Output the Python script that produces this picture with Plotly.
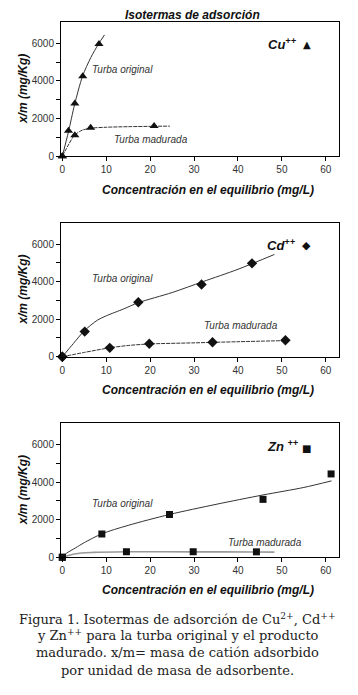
import plotly.graph_objects as go

# ---------------- data ----------------
# Cu++ measured points
cu_orig_x = [0, 1.4, 2.85, 4.65, 8.35]
cu_orig_y = [0, 1350, 2800, 4250, 5960]
cu_mad_x = [0, 2.85, 6.45, 20.9]
cu_mad_y = [0, 1120, 1510, 1600]
# Cu++ fitted curves
cu_orig_fit_x = [0, 1.4, 2.8, 4.6, 6.5, 8.2, 9.6]
cu_orig_fit_y = [0, 1300, 2750, 4250, 5250, 5950, 6450]
cu_mad_fit_x = [0, 1.5, 2.8, 4.5, 6.5, 10, 15, 21, 24.5]
cu_mad_fit_y = [0, 650, 1120, 1380, 1490, 1540, 1570, 1590, 1600]

# Cd++ measured points
cd_orig_x = [0, 5.1, 17.3, 31.7, 43.2]
cd_orig_y = [0, 1340, 2900, 3850, 4975]
cd_mad_x = [0, 10.8, 19.8, 34.2, 50.8]
cd_mad_y = [0, 475, 690, 770, 875]
# Cd++ fitted curves
cd_orig_fit_x = [0, 2.5, 5, 8, 10, 14, 17.3, 25, 32, 40, 48.3]
cd_orig_fit_y = [0, 700, 1380, 1950, 2180, 2550, 2880, 3420, 4000, 4660, 5450]
cd_mad_fit_x = [0, 5, 10.8, 15, 19.8, 30, 40, 50.8]
cd_mad_fit_y = [0, 230, 475, 600, 680, 740, 800, 860]

# Zn++ measured points
zn_orig_x = [0, 9.0, 24.4, 45.7, 61.2]
zn_orig_y = [0, 1240, 2280, 3085, 4440]
zn_mad_x = [0, 14.6, 29.8, 44.2]
zn_mad_y = [0, 295, 295, 290]
# Zn++ fitted curves
zn_orig_fit_x = [0, 1, 3, 5, 9, 15, 24.4, 35, 45.7, 55, 61.3]
zn_orig_fit_y = [0, 220, 500, 780, 1250, 1700, 2280, 2820, 3320, 3720, 4070]
zn_mad_fit_x = [0, 3, 7, 14.6, 30, 44.2, 48.3]
zn_mad_fit_y = [0, 190, 260, 295, 290, 280, 275]

# axis ticks
x_ticks = [0, 10, 20, 30, 40, 50, 60]
y_ticks = [0, 2000, 4000, 6000]
y_minor_ticks = [1000, 3000, 5000]

TITLE = "Isotermas de adsorción"
X_TITLE = "Concentración en el equilibrio (mg/L)"
Y_TITLE = "x/m (mg/Kg)"
SERIES_LABELS = ["Turba original", "Turba madurada"]
ION_LABELS = ["Cu<sup>++</sup>", "Cd<sup>++</sup>", "Zn <sup>++</sup>"]
CAPTION = [
    "Figura 1. Isotermas de adsorción de Cu<sup>2+</sup>, Cd<sup>++</sup>",
    "y Zn<sup>++</sup> para la turba original y el producto",
    "madurado. x/m= masa de catión adsorbido",
    "por unidad de masa de adsorbente.",
]

# ---------------- figure ----------------
BODY = 8                      # default page margin around the plot div
W, H = 358 - BODY, 695 - BODY
ML, MR = 61 - BODY, 19
PW = W - ML - MR

def py(pix):  # page pixel y -> paper y
    return 1 - (pix - BODY) / H

def px(pix):  # page pixel x -> paper x
    return (pix - BODY - ML) / PW

domains = [
    [py(157.3), py(22.0)],
    [py(359.3), py(224.3)],
    [py(561.3), py(426.3)],
]

fig = go.Figure()

panels = [
    dict(ox=cu_orig_x, oy=cu_orig_y, mx=cu_mad_x, my=cu_mad_y,
         ofx=cu_orig_fit_x, ofy=cu_orig_fit_y, mfx=cu_mad_fit_x, mfy=cu_mad_fit_y,
         sym="triangle-up", size=8, glyph="▲", gsize=10,
         mad_color="#333", mad_dash="4px,1px", mad_w=1.0),
    dict(ox=cd_orig_x, oy=cd_orig_y, mx=cd_mad_x, my=cd_mad_y,
         ofx=cd_orig_fit_x, ofy=cd_orig_fit_y, mfx=cd_mad_fit_x, mfy=cd_mad_fit_y,
         sym="diamond", size=8, glyph="◆", gsize=11,
         mad_color="#333", mad_dash="4px,1px", mad_w=1.0),
    dict(ox=zn_orig_x, oy=zn_orig_y, mx=zn_mad_x, my=zn_mad_y,
         ofx=zn_orig_fit_x, ofy=zn_orig_fit_y, mfx=zn_mad_fit_x, mfy=zn_mad_fit_y,
         sym="square", size=7, glyph="■", gsize=10,
         mad_color="#999", mad_dash="solid", mad_w=1.6),
]

label_pos = [
    dict(o=(13.8, 4600), m=(20.2, 900), ion=(53.9, 5990), g=(55.6, 5960)),
    dict(o=(13.8, 4150), m=(40.7, 1640), ion=(53.6, 5960), g=(55.7, 5910)),
    dict(o=(13.8, 2870), m=(46.2, 810), ion=(54.4, 5930), g=(55.7, 5820)),
]

annotations = []
for i, p in enumerate(panels):
    k = "" if i == 0 else str(i + 1)
    xa, ya = "x" + k, "y" + k
    # fitted curves
    fig.add_trace(go.Scatter(x=p["ofx"], y=p["ofy"], mode="lines", xaxis=xa, yaxis=ya,
                             line=dict(color="#333", width=1, shape="spline", smoothing=0.8),
                             showlegend=False, hoverinfo="skip"))
    fig.add_trace(go.Scatter(x=p["mfx"], y=p["mfy"], mode="lines", xaxis=xa, yaxis=ya,
                             line=dict(color=p["mad_color"], width=p["mad_w"], dash=p["mad_dash"],
                                       shape="spline", smoothing=0.8),
                             showlegend=False, hoverinfo="skip"))
    # measured points
    fig.add_trace(go.Scatter(x=p["ox"], y=p["oy"], mode="markers", xaxis=xa, yaxis=ya,
                             marker=dict(symbol=p["sym"], size=p["size"], color="#111"),
                             cliponaxis=False, showlegend=False))
    fig.add_trace(go.Scatter(x=p["mx"], y=p["my"], mode="markers", xaxis=xa, yaxis=ya,
                             marker=dict(symbol=p["sym"], size=p["size"], color="#111"),
                             cliponaxis=False, showlegend=False))

    axis_common = dict(showline=True, linecolor="black", linewidth=1, mirror=True,
                       ticks="outside", ticklen=4, tickcolor="black", showgrid=False,
                       zeroline=False, tickfont=dict(family="Liberation Sans", size=10, color="#333"))
    fig.layout["xaxis" + k] = dict(domain=[0, 1], anchor=ya, range=[-0.3, 63],
                                   tickvals=x_ticks, **axis_common)
    fig.layout["yaxis" + k] = dict(domain=domains[i], anchor=xa, range=[0, 7140],
                                   tickvals=y_ticks,
                                   minor=dict(tickvals=y_minor_ticks, ticks="outside", ticklen=4,
                                              tickcolor="black", showgrid=False),
                                   **axis_common)

    lp = label_pos[i]
    lab_font = dict(family="Liberation Sans", size=10, color="#333")
    annotations.append(dict(x=lp["o"][0], y=lp["o"][1], xref=xa, yref=ya, showarrow=False,
                            xanchor="center", yanchor="middle",
                            text="<i>" + SERIES_LABELS[0] + "</i>", font=lab_font))
    annotations.append(dict(x=lp["m"][0], y=lp["m"][1], xref=xa, yref=ya, showarrow=False,
                            xanchor="center", yanchor="middle",
                            text="<i>" + SERIES_LABELS[1] + "</i>", font=lab_font))
    annotations.append(dict(x=lp["ion"][0], y=lp["ion"][1], xref=xa, yref=ya, showarrow=False,
                            xanchor="right", yanchor="middle",
                            text="<b><i>" + ION_LABELS[i] + "</i></b>",
                            font=dict(family="Liberation Sans", size=13, color="#111")))
    annotations.append(dict(x=lp["g"][0], y=lp["g"][1], xref=xa, yref=ya, showarrow=False,
                            xanchor="center", yanchor="middle",
                            text=p["glyph"], font=dict(family="DejaVu Sans", size=p["gsize"], color="#111")))

    # y axis title
    dmid = (domains[i][0] + domains[i][1]) / 2
    annotations.append(dict(x=px(23), y=dmid, xref="paper", yref="paper", showarrow=False,
                            xanchor="center", yanchor="middle",
                            textangle=-90, text="<b><i>" + Y_TITLE + "</i></b>",
                            font=dict(family="Liberation Sans", size=12, color="#111")))

xt_y = [191, 392.7, 594.3]
for yy in xt_y:
    annotations.append(dict(x=px(208), y=py(yy), xref="paper", yref="paper", showarrow=False,
                            xanchor="center", yanchor="middle",
                            text="<b><i>" + X_TITLE + "</i></b>",
                            font=dict(family="Liberation Sans", size=12, color="#111")))

annotations.append(dict(x=px(192.5), y=py(15), xref="paper", yref="paper", showarrow=False,
                        xanchor="center", yanchor="middle",
                        text="<b><i>" + TITLE + "</i></b>",
                        font=dict(family="Liberation Sans", size=12, color="#111")))

cap_y = [623, 640, 657.5, 675]
for line, yy in zip(CAPTION, cap_y):
    annotations.append(dict(x=px(177.5), y=py(yy), xref="paper", yref="paper", showarrow=False,
                            xanchor="center", yanchor="middle",
                            text=line, font=dict(family="DejaVu Serif", size=13, color="#222")))

fig.update_layout(width=W, height=H, margin=dict(l=ML, r=MR, t=0, b=0),
                  paper_bgcolor="white", plot_bgcolor="white",
                  annotations=annotations, showlegend=False)

fig.write_html("out.html")
